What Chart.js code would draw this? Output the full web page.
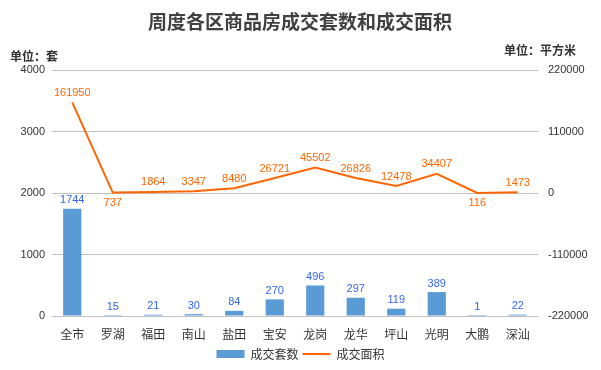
<!DOCTYPE html>
<html>
<head>
<meta charset="utf-8">
<script src="https://cdn.jsdelivr.net/npm/chart.js@4/dist/chart.umd.min.js"></script>
<style>
  body { margin: 0; background: #fff; }
  #box { width: 601px; height: 370px; }
</style>
</head>
<body>
<div id="box"><canvas id="chart" width="601" height="370"></canvas></div>
<script>
// 区域
var districts = ['全市', '罗湖', '福田', '南山', '盐田', '宝安', '龙岗', '龙华', '坪山', '光明', '大鹏', '深汕'];
// 成交套数（套）
var units = [1744, 15, 21, 30, 84, 270, 496, 297, 119, 389, 1, 22];
// 成交面积（平方米）
var areas = [161950, 737, 1864, 3347, 8480, 26721, 45502, 26826, 12478, 34407, 116, 1473];
// 刻度
var leftTicks = [0, 1000, 2000, 3000, 4000];
var rightTicks = [-220000, -110000, 0, 110000, 220000];

var titleText = '周度各区商品房成交套数和成交面积';
var unitLeft = '单位：套';
var unitRight = '单位：平方米';

// 面积标签放在点下方的位置
var labelBelow = [1, 10];

var cjk = '"Noto Sans CJK SC", sans-serif';
var num = '"Liberation Sans", Arial, sans-serif';

var textPlugin = {
    id: 'textPlugin',
    afterDraw: function(chart) {
        var ctx = chart.ctx;
        ctx.save();
        ctx.fillStyle = '#404040';
        ctx.textBaseline = 'middle';
        ctx.font = 'bold 19px ' + cjk;
        ctx.textAlign = 'center';
        ctx.fillText(titleText, 300, 22);
        ctx.font = 'bold 12px ' + cjk;
        ctx.fillStyle = '#333';
        ctx.textAlign = 'left';
        ctx.fillText(unitLeft, 10, 56);
        ctx.textAlign = 'right';
        ctx.fillText(unitRight, 576, 50);
        ctx.restore();
    },
    afterDatasetsDraw: function(chart) {
        var ctx = chart.ctx;
        ctx.save();
        ctx.font = '11px ' + num;
        ctx.textAlign = 'center';
        // 套数标签
        ctx.fillStyle = '#3366EE';
        ctx.textBaseline = 'bottom';
        chart.getDatasetMeta(0).data.forEach(function(bar, i) {
            ctx.fillText(String(units[i]), bar.x, bar.y - 3);
        });
        // 面积标签
        ctx.fillStyle = '#FF6600';
        chart.getDatasetMeta(1).data.forEach(function(pt, i) {
            if (labelBelow.indexOf(i) >= 0) {
                ctx.textBaseline = 'top';
                ctx.fillText(String(areas[i]), pt.x, pt.y + 5);
            } else {
                ctx.textBaseline = 'bottom';
                ctx.fillText(String(areas[i]), pt.x, pt.y - 4);
            }
        });
        ctx.restore();
    }
};

function plain(v) { return String(v); }

var ctx = document.getElementById('chart').getContext('2d');
var chart = new Chart(ctx, {
    type: 'bar',
    data: {
        labels: districts,
        datasets: [{
            label: '成交套数',
            data: units,
            backgroundColor: '#5B9BD5',
            barPercentage: 0.45,
            categoryPercentage: 1,
            yAxisID: 'y',
            pointStyle: 'rect'
        }, {
            type: 'line',
            label: '成交面积',
            data: areas,
            borderColor: '#FF6600',
            backgroundColor: '#FF6600',
            borderWidth: 2,
            pointRadius: 0,
            pointStyle: 'line',
            tension: 0,
            yAxisID: 'y1'
        }]
    },
    options: {
        responsive: false,
        animation: false,
        layout: { padding: { top: 70, left: 0, right: 0, bottom: 0 } },
        scales: {
            x: {
                grid: { display: false, drawTicks: false },
                border: { display: false },
                afterFit: function(s) { s.height = 28; },
                ticks: { color: '#333', font: { size: 12, family: cjk }, padding: 11 }
            },
            y: {
                position: 'left',
                min: 0,
                max: 4000,
                afterBuildTicks: function(s) { s.ticks = leftTicks.map(function(v) { return { value: v }; }); },
                afterFit: function(s) { s.width = 52; },
                grid: { color: '#C0C0C0', lineWidth: 1, drawTicks: false },
                border: { display: false },
                ticks: { color: '#333', font: { size: 11, family: num }, padding: 7, callback: plain }
            },
            y1: {
                position: 'right',
                min: -220000,
                max: 220000,
                afterBuildTicks: function(s) { s.ticks = rightTicks.map(function(v) { return { value: v }; }); },
                afterFit: function(s) { s.width = 63; },
                grid: { drawOnChartArea: false, drawTicks: false },
                border: { display: false },
                ticks: { color: '#333', font: { size: 11, family: num }, padding: 10, callback: plain }
            }
        },
        plugins: {
            title: { display: false },
            tooltip: { enabled: false },
            legend: {
                position: 'bottom',
                labels: {
                    usePointStyle: true,
                    pointStyleWidth: 28,
                    boxHeight: 8,
                    color: '#333',
                    padding: 4,
                    font: { size: 12, family: cjk }
                }
            }
        }
    },
    plugins: [textPlugin]
});
</script>
</body>
</html>
